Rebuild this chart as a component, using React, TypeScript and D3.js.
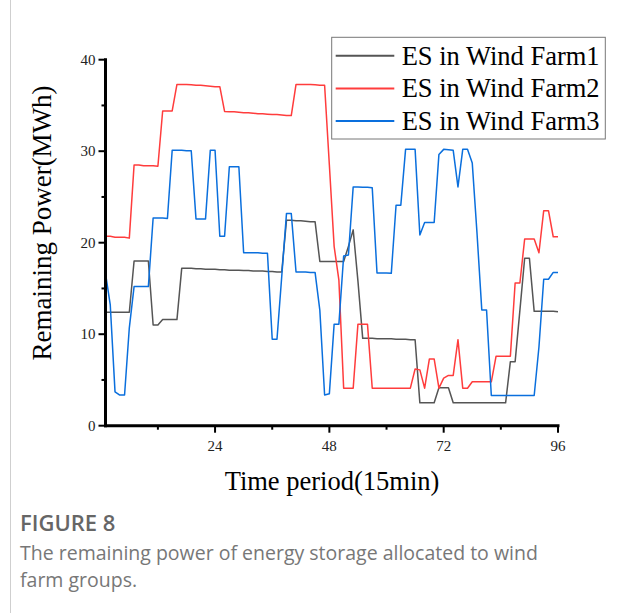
import * as d3 from "d3";

const timeSteps = d3.range(1, 97);

const farm1 = [
  12.4, 12.4, 12.4, 12.4, 12.4, 12.4,
  18.0, 18.0, 18.0, 18.0,
  11.0, 11.0,
  11.6, 11.6, 11.6, 11.6,
  17.2, 17.2, 17.2, 17.15, 17.15, 17.1, 17.1, 17.1, 17.05, 17.05, 17.0, 17.0,
  17.0, 16.95, 16.95, 16.9, 16.9, 16.9, 16.85, 16.85, 16.8, 16.8,
  22.45, 22.45, 22.4, 22.4, 22.35, 22.3, 22.3,
  17.95, 17.95, 17.95, 17.95, 17.95, 17.95,
  19.6, 21.4, 15.8,
  9.55, 9.55, 9.55, 9.5, 9.5, 9.5, 9.5, 9.45, 9.45, 9.45, 9.4, 9.4,
  2.5, 2.5, 2.5, 2.5,
  4.15, 4.15, 4.15,
  2.5, 2.5, 2.5, 2.5, 2.5, 2.5, 2.5, 2.5, 2.5, 2.5, 2.5, 2.5,
  7.0, 7.0, 12.6, 18.3, 18.3,
  12.5, 12.5, 12.5, 12.5, 12.5, 12.45,
];

const farm2 = [
  20.7, 20.7, 20.6, 20.6, 20.6, 20.5,
  28.5, 28.5, 28.4, 28.4, 28.4, 28.35,
  34.4, 34.4, 34.4,
  37.3, 37.3, 37.3, 37.25, 37.2, 37.2, 37.15, 37.1, 37.05, 37.05,
  34.35, 34.3, 34.3, 34.25, 34.2, 34.2, 34.15, 34.1, 34.1, 34.05, 34.0, 34.0, 33.95, 33.9, 33.9,
  37.3, 37.3, 37.3, 37.3, 37.25, 37.2, 37.2,
  28.5, 19.6, 15.9,
  4.1, 4.1, 4.1,
  11.1, 11.1, 11.1,
  4.1, 4.1, 4.1, 4.1, 4.1, 4.1, 4.1, 4.1, 4.1,
  6.2, 6.1, 4.1, 7.3, 7.3, 4.1, 5.2, 5.5, 5.5, 9.4, 4.1, 4.1,
  4.8, 4.8, 4.8, 4.8, 4.8,
  7.6, 7.6, 7.6, 7.6,
  15.6, 15.6,
  20.4, 20.4, 20.4, 18.9, 23.5, 23.5, 20.65, 20.65,
];

const farm3 = [
  16.65, 13.2, 3.7, 3.35, 3.35, 10.7,
  15.2, 15.2, 15.2, 15.2,
  22.7, 22.7, 22.7, 22.65,
  30.1, 30.1, 30.1, 30.05, 30.05,
  22.6, 22.6, 22.6,
  30.1, 30.1,
  20.7, 20.7,
  28.3, 28.3, 28.3,
  18.9, 18.9, 18.9, 18.9, 18.85, 18.85,
  9.45, 9.45, 16.3,
  23.2, 23.2,
  16.8, 16.8, 16.8, 16.75, 16.75,
  12.6, 3.35, 3.5, 11.1, 11.1, 18.55, 18.65,
  26.1, 26.1, 26.05, 26.05, 26.0,
  16.7, 16.7, 16.7, 16.65,
  24.1, 24.1,
  30.2, 30.2, 30.2,
  20.85, 22.2, 22.2, 22.2,
  29.65, 30.2, 30.15, 30.1, 26.1, 30.2, 30.2, 28.7, 21.0,
  12.65, 12.65,
  3.3, 3.3, 3.3, 3.3, 3.3, 3.3, 3.3, 3.3, 3.3, 3.3,
  8.6, 16.0, 16.0, 16.75, 16.75,
];

const seriesNames = ["ES in Wind Farm1", "ES in Wind Farm2", "ES in Wind Farm3"];
const seriesColors = ["#555555", "#ff3c3c", "#0a6fdd"];
const seriesValues = [farm1, farm2, farm3];

const xMajorTicks = [24, 48, 72, 96];
const xMinorTicks = [12, 36, 60, 84];
const yMajorTicks = [0, 10, 20, 30, 40];
const yMinorTicks = [5, 15, 25, 35];

const W = 621;
const H = 613;
const serif = "'Liberation Serif', 'Times New Roman', serif";
const sans = "'Open Sans', 'Noto Sans', sans-serif";

function App() {
  const left = 105.5;
  const right = 558;
  const top = 59.7;
  const bottom = 425.7;

  const x = d3.scaleLinear().domain([1, 96]).range([left, right]);
  const y = d3.scaleLinear().domain([0, 40]).range([bottom, top]);

  const line = d3
    .line<number>()
    .x((_, i) => x(timeSteps[i]))
    .y((d) => y(d));

  return (
    <div style={{ position: "absolute", left: 0, top: 0, background: "#fff" }}>
      <svg width={W} height={H} style={{ display: "block" }}>
        <rect width={W} height={H} fill="#fff" />
        <line x1={10.5} y1={0} x2={10.5} y2={H} stroke="#cfcfcf" strokeWidth={1} />

        {/* series */}
        {seriesValues.map((vals, i) => (
          <path
            key={i}
            d={line(vals) ?? ""}
            fill="none"
            stroke={seriesColors[i]}
            strokeWidth={1.5}
            strokeLinejoin="round"
          />
        ))}

        {/* axes */}
        <line x1={left} y1={top - 1.5} x2={left} y2={bottom + 1.5} stroke="#000" strokeWidth={3} />
        <line x1={left - 1.5} y1={bottom} x2={right + 1.5} y2={bottom} stroke="#000" strokeWidth={3} />

        {yMajorTicks.map((t) => (
          <g key={t}>
            <line x1={left - 7} x2={left} y1={y(t)} y2={y(t)} stroke="#000" strokeWidth={2} />
            <text
              x={left - 10}
              y={y(t)}
              textAnchor="end"
              dominantBaseline="central"
              fontFamily={serif}
              fontSize={15}
              fill="#222"
            >
              {t}
            </text>
          </g>
        ))}
        {yMinorTicks.map((t) => (
          <line key={t} x1={left - 4} x2={left} y1={y(t)} y2={y(t)} stroke="#000" strokeWidth={2} />
        ))}

        {xMajorTicks.map((t) => (
          <g key={t}>
            <line x1={x(t)} x2={x(t)} y1={bottom} y2={bottom + 7} stroke="#000" strokeWidth={2} />
            <text
              x={x(t)}
              y={bottom + 25}
              textAnchor="middle"
              fontFamily={serif}
              fontSize={15}
              fill="#222"
            >
              {t}
            </text>
          </g>
        ))}
        {xMinorTicks.map((t) => (
          <line key={t} x1={x(t)} x2={x(t)} y1={bottom} y2={bottom + 4} stroke="#000" strokeWidth={2} />
        ))}

        {/* axis titles */}
        <text
          x={332}
          y={490}
          textAnchor="middle"
          fontFamily={serif}
          fontSize={26.5}
          fill="#000"
        >
          Time period(15min)
        </text>
        <text
          transform="translate(51,223) rotate(-90)"
          textAnchor="middle"
          fontFamily={serif}
          fontSize={27}
          fill="#000"
        >
          Remaining Power(MWh)
        </text>

        {/* legend */}
        <rect x={331.7} y={37.3} width={273.6} height={101.7} fill="#fff" stroke="#777" strokeWidth={1} />
        {seriesNames.map((name, i) => {
          const ly = 55.7 + i * 32.7;
          return (
            <g key={name}>
              <line x1={335.7} x2={394.3} y1={ly} y2={ly} stroke={seriesColors[i]} strokeWidth={2} />
              <text
                x={401.7}
                y={ly}
                dominantBaseline="central"
                fontFamily={serif}
                fontSize={26.5}
                fill="#000"
              >
                {name}
              </text>
            </g>
          );
        })}

        {/* caption */}
        <text x={20} y={531} fontFamily={sans} fontSize={22} fontWeight={600} fill="#666">
          FIGURE 8
        </text>
        <text x={20} y={560} fontFamily={sans} fontSize={19.5} fill="#777">
          The remaining power of energy storage allocated to wind
        </text>
        <text x={20} y={587} fontFamily={sans} fontSize={19.5} fill="#777">
          farm groups.
        </text>
      </svg>
    </div>
  );
}

export default App;
